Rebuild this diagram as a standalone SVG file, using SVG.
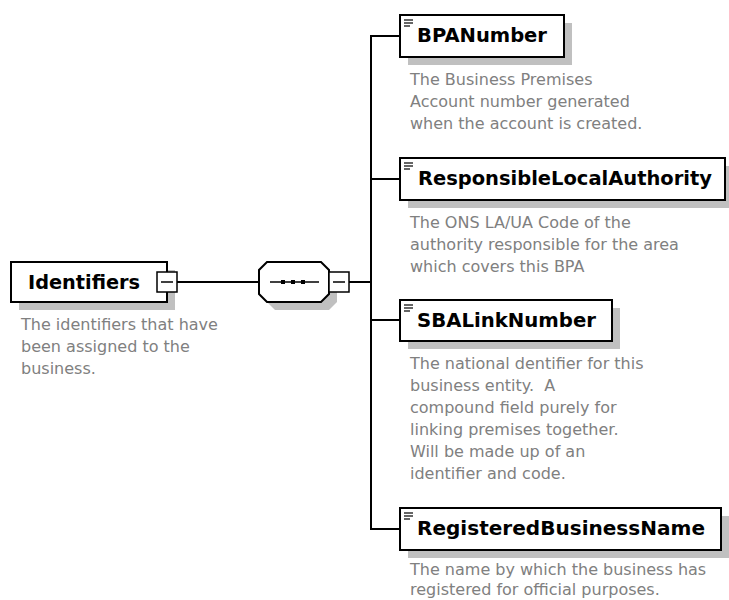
<svg xmlns="http://www.w3.org/2000/svg" width="729" height="600" viewBox="0 0 729 600">
<style>
.bg{fill:#fff}
.shadow{fill:#c0c0c0}
.box{fill:#fff;stroke:#000;stroke-width:2}
.btn{fill:#fff;stroke:#000;stroke-width:1.5}
.conn{fill:none;stroke:#000;stroke-width:2}
.title{font-family:"DejaVu Sans",sans-serif;font-weight:bold;font-size:19px;fill:#000}
.desc{font-family:"DejaVu Sans",sans-serif;font-size:16px;fill:#808080}
.icon{stroke:#333;stroke-width:1.3}
</style>
<rect class="bg" x="0" y="0" width="729" height="600"/>
<g id="connectors">
<line class="conn" x1="177" y1="282" x2="259" y2="282"/>
<line class="conn" x1="349" y1="282" x2="371" y2="282"/>
<path class="conn" d="M400 36 H371 V529 H400"/>
<line class="conn" x1="371" y1="179" x2="400" y2="179"/>
<line class="conn" x1="371" y1="320" x2="400" y2="320"/>
</g>
<g id="node-identifiers">
<rect class="shadow" x="19" y="270" width="156" height="40"/>
<rect class="box" x="11" y="262" width="156" height="40"/>
<text class="title" x="28" y="289" textLength="112" lengthAdjust="spacingAndGlyphs">Identifiers</text>
<rect class="btn" x="157" y="272" width="20" height="20"/>
<line x1="161" y1="282" x2="173" y2="282" stroke="#000" stroke-width="1.5"/>
<text class="desc" x="21" y="330">The identifiers that have</text>
<text class="desc" x="21" y="352">been assigned to the</text>
<text class="desc" x="21" y="374">business.</text>
</g>
<g id="node-sequence">
<path class="shadow" d="M275 270 H329 L337 278 V302 L329 310 H275 L267 302 V278 Z"/>
<path class="box" d="M267 262 H321 L329 270 V294 L321 302 H267 L259 294 V270 Z"/>
<line x1="270" y1="282" x2="319" y2="282" stroke="#000" stroke-width="1.5"/>
<rect x="281" y="280" width="4" height="4" fill="#000"/>
<rect x="291" y="280" width="4" height="4" fill="#000"/>
<rect x="301" y="280" width="4" height="4" fill="#000"/>
<rect class="btn" x="329" y="272" width="20" height="20"/>
<line x1="333" y1="282" x2="345" y2="282" stroke="#000" stroke-width="1.5"/>
</g>
<g id="node-bpanumber">
<rect class="shadow" x="408" y="23" width="164" height="42"/>
<rect class="box" x="400" y="15" width="164" height="42"/>
<path class="icon" d="M404 20 H413 M404 23 H413 M404 26 H410"/>
<text class="title" x="417" y="42" textLength="130" lengthAdjust="spacingAndGlyphs">BPANumber</text>
<text class="desc" x="410" y="85">The Business Premises</text>
<text class="desc" x="410" y="107">Account number generated</text>
<text class="desc" x="410" y="129">when the account is created.</text>
</g>
<g id="node-responsiblelocalauthority">
<rect class="shadow" x="408" y="166" width="325" height="42"/>
<rect class="box" x="400" y="158" width="325" height="42"/>
<path class="icon" d="M404 163 H413 M404 166 H413 M404 169 H410"/>
<text class="title" x="418" y="185" textLength="294" lengthAdjust="spacingAndGlyphs">ResponsibleLocalAuthority</text>
<text class="desc" x="410" y="228">The ONS LA/UA Code of the</text>
<text class="desc" x="410" y="250">authority responsible for the area</text>
<text class="desc" x="410" y="272">which covers this BPA</text>
</g>
<g id="node-sbalinknumber">
<rect class="shadow" x="408" y="308" width="212" height="41"/>
<rect class="box" x="400" y="300" width="212" height="41"/>
<path class="icon" d="M404 305 H413 M404 308 H413 M404 311 H410"/>
<text class="title" x="417" y="327" textLength="179" lengthAdjust="spacingAndGlyphs">SBALinkNumber</text>
<text class="desc" x="410" y="369">The national dentifier for this</text>
<text class="desc" x="410" y="391">business entity.&#160; A</text>
<text class="desc" x="410" y="413">compound field purely for</text>
<text class="desc" x="410" y="435">linking premises together.</text>
<text class="desc" x="410" y="457">Will be made up of an</text>
<text class="desc" x="410" y="479">identifier and code.</text>
</g>
<g id="node-registeredbusinessname">
<rect class="shadow" x="408" y="516" width="321" height="42"/>
<rect class="box" x="400" y="508" width="321" height="42"/>
<path class="icon" d="M404 513 H413 M404 516 H413 M404 519 H410"/>
<text class="title" x="417" y="535" textLength="288" lengthAdjust="spacingAndGlyphs">RegisteredBusinessName</text>
<text class="desc" x="410" y="575">The name by which the business has</text>
<text class="desc" x="410" y="595">registered for official purposes.</text>
</g>
</svg>
